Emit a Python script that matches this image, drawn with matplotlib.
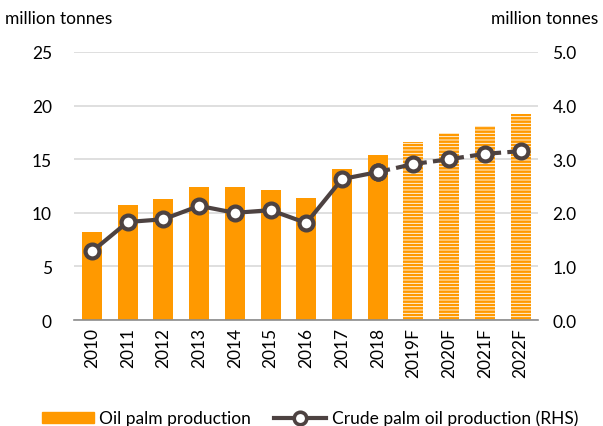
import matplotlib
matplotlib.use("Agg")
import matplotlib.pyplot as plt
from matplotlib.lines import Line2D
import matplotlib.patches as mpatches

plt.rcParams["font.family"] = ["Lato", "DejaVu Sans"]
plt.rcParams["hatch.linewidth"] = 1.8

# ── data ──────────────────────────────────────────────────────────────────────
years = ["2010", "2011", "2012", "2013", "2014", "2015", "2016", "2017", "2018",
         "2019F", "2020F", "2021F", "2022F"]
oil_palm = [8.2, 10.7, 11.3, 12.4, 12.4, 12.1, 11.4, 14.1, 15.4,
            16.6, 17.4, 18.1, 19.2]
crude_palm = [1.28, 1.83, 1.88, 2.13, 2.00, 2.05, 1.81, 2.63, 2.76,
              2.91, 3.00, 3.10, 3.15]
n_actual = 9  # 2010-2018 actual, rest forecast

ORANGE = "#FF9900"
LINE = "#4D4241"
GRID = "#D9D9D9"

fig = plt.figure(figsize=(6.03, 4.27), dpi=100)
ax = fig.add_axes([0.123, 0.248, 0.77, 0.628])
ax2 = ax.twinx()

x = list(range(len(years)))
ax.bar(x[:n_actual], oil_palm[:n_actual], width=0.56, color=ORANGE, zorder=2)
ax.bar(x[n_actual:], oil_palm[n_actual:], width=0.56, facecolor="white",
       edgecolor=ORANGE, linewidth=0, hatch="-----", zorder=2)

ax.set_ylim(0, 25)
ax.set_xlim(-0.5, len(years) - 0.5)
ax.set_yticks([0, 5, 10, 15, 20, 25])
ax.grid(axis="y", color=GRID, linewidth=1.2, zorder=0)
ax.set_axisbelow(True)
ax.set_xticks(x)
ax.set_xticklabels(years, rotation=90, fontsize=12.5)
ax.tick_params(axis="y", length=0, labelsize=12.5, pad=16)
ax.tick_params(axis="x", length=0, pad=5)

for s in ["top", "right", "left"]:
    ax.spines[s].set_visible(False)
    ax2.spines[s].set_visible(False)
ax.spines["bottom"].set_color("#8C8C8C")
ax.spines["bottom"].set_linewidth(1.2)
ax2.spines["bottom"].set_visible(False)

ax2.set_ylim(0, 5)
ax2.set_yticks([0, 1, 2, 3, 4, 5])
ax2.set_yticklabels([f"{v:.1f}" for v in [0, 1, 2, 3, 4, 5]])
ax2.tick_params(axis="y", length=0, labelsize=12.5, pad=10)

mk = dict(marker="o", markersize=10, markerfacecolor="white",
          markeredgecolor=LINE, markeredgewidth=3)
ax2.plot(x[:n_actual], crude_palm[:n_actual], color=LINE, linewidth=3,
         zorder=3, **mk)
ax2.plot(x[n_actual - 1:], crude_palm[n_actual - 1:], color=LINE, linewidth=3,
         linestyle=(0, (3, 1.5)), zorder=3, **mk)
ax2.plot(x[n_actual - 1], crude_palm[n_actual - 1], color=LINE, zorder=4, **mk)

fig.text(0.008, 0.955, "million tonnes", fontsize=12.5, ha="left", va="center")
fig.text(0.992, 0.955, "million tonnes", fontsize=12.5, ha="right", va="center")

mk_leg = dict(mk, markersize=9, markeredgewidth=2.6)
handles = [
    mpatches.Patch(color=ORANGE, label="Oil palm production"),
    Line2D([0], [0], color=LINE, linewidth=3, label="Crude palm oil production (RHS)", **mk_leg),
]
fig.legend(handles=handles, loc="center left", bbox_to_anchor=(42 / 603, 1 - 419 / 427),
           ncol=2, frameon=False, fontsize=12.5, handlelength=3.0,
           handleheight=0.58, columnspacing=1.33, handletextpad=0.3,
           borderpad=0, borderaxespad=0)

fig.savefig("out.png", dpi=100)
